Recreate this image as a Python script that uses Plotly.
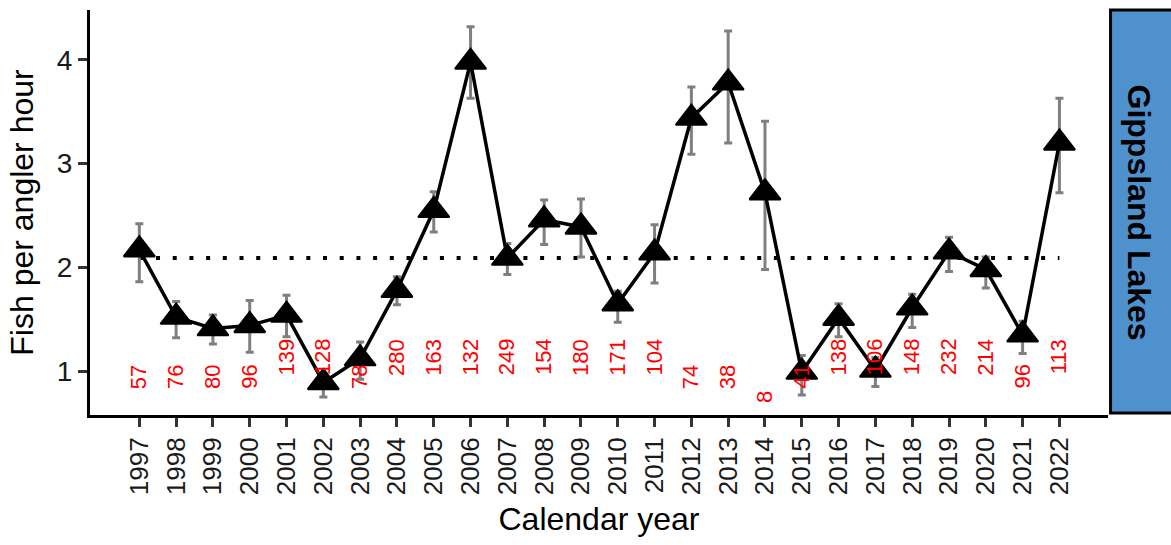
import plotly.graph_objects as go

# Recreational catch rate, Gippsland Lakes
years = [1997, 1998, 1999, 2000, 2001, 2002, 2003, 2004, 2005, 2006, 2007, 2008, 2009,
         2010, 2011, 2012, 2013, 2014, 2015, 2016, 2017, 2018, 2019, 2020, 2021, 2022]
cpue = [2.17, 1.52, 1.41, 1.44, 1.54, 0.89, 1.12, 1.78, 2.55, 3.98, 2.09, 2.46, 2.39,
        1.65, 2.14, 3.44, 3.78, 2.72, 0.99, 1.51, 1.01, 1.61, 2.15, 1.98, 1.35, 3.20]
ci_upper = [2.42, 1.67, 1.54, 1.68, 1.73, 0.98, 1.28, 1.91, 2.73, 4.32, 2.23, 2.65, 2.66,
            1.77, 2.41, 3.74, 4.28, 3.41, 1.15, 1.65, 1.13, 1.74, 2.29, 2.10, 1.48, 3.63]
ci_lower = [1.86, 1.32, 1.26, 1.18, 1.33, 0.75, 0.92, 1.64, 2.34, 3.63, 1.93, 2.22, 2.10,
            1.47, 1.85, 3.09, 3.20, 1.98, 0.77, 1.33, 0.85, 1.42, 1.96, 1.80, 1.17, 2.72]
n_anglers = [57, 76, 80, 96, 139, 128, 78, 280, 163, 132, 249, 154, 180,
             171, 104, 74, 38, 8, 41, 138, 106, 148, 232, 214, 96, 113]
long_term_mean = 2.09
region_name = "Gippsland Lakes"

FONT = "Liberation Sans, Arial, Helvetica, sans-serif"

fig = go.Figure()

# long-term average
fig.add_trace(go.Scatter(
    x=years, y=[long_term_mean] * len(years), mode="lines",
    line=dict(color="black", width=4, dash="4px,12.7px"),
    hoverinfo="skip", showlegend=False,
))

# confidence intervals
fig.add_trace(go.Scatter(
    x=years, y=cpue, mode="markers",
    marker=dict(size=1, color="rgba(0,0,0,0)"),
    error_y=dict(
        type="data", symmetric=False,
        array=[u - c for u, c in zip(ci_upper, cpue)],
        arrayminus=[c - l for c, l in zip(cpue, ci_lower)],
        color="#7f7f7f", thickness=3, width=4,
    ),
    hoverinfo="skip", showlegend=False,
))

# annual catch rate
fig.add_trace(go.Scatter(
    x=years, y=cpue, mode="lines+markers",
    line=dict(color="black", width=3.5),
    marker=dict(symbol="triangle-up", size=27, color="black",
                line=dict(color="black", width=2)),
    showlegend=False,
))

# sample sizes, printed vertically beneath the series
annotations = []
for yr, n in zip(years, n_anglers):
    digits = len(str(n))
    annotations.append(dict(
        x=yr, y=0.557 + 0.193 * digits, xref="x", yref="y",
        text=str(n), showarrow=False, textangle=-90,
        xanchor="center", yanchor="middle",
        font=dict(family=FONT, size=22, color="#ff0000"),
    ))

# facet strip on the right
annotations.append(dict(
    x=1.0314, y=0.5, xref="paper", yref="paper",
    text=region_name, showarrow=False, textangle=90,
    xanchor="center", yanchor="middle",
    font=dict(family=FONT, size=32, color="black", weight="bold"),
))

fig.add_shape(
    type="rect", xref="paper", yref="paper",
    x0=1.0025, x1=1.066, y0=0.005, y1=1.0,
    fillcolor="#4f91cd", line=dict(color="black", width=3), layer="below",
)

fig.update_layout(
    width=1171, height=545,
    margin=dict(l=90, r=63, t=10, b=130, autoexpand=False),
    paper_bgcolor="white", plot_bgcolor="white",
    font=dict(family=FONT, color="black"),
    annotations=annotations,
)

fig.update_xaxes(
    range=[1995.66, 2023.32], tickmode="array", tickvals=years,
    ticktext=[str(y) for y in years], tickangle=-90,
    tickfont=dict(family=FONT, size=26, color="#1a1a1a"),
    ticks="outside", ticklen=9, tickwidth=3, tickcolor="#333333",
    showline=True, linecolor="black", linewidth=3,
    showgrid=False, zeroline=False,
    title=dict(text="Calendar year", font=dict(family=FONT, size=32, color="black"),
               standoff=14),
)

fig.update_yaxes(
    range=[0.576, 4.482], tickvals=[1, 2, 3, 4],
    tickfont=dict(family=FONT, size=28, color="#1a1a1a"),
    ticks="outside", ticklen=9, tickwidth=3, tickcolor="#333333",
    showline=True, linecolor="black", linewidth=3,
    showgrid=False, zeroline=False,
    title=dict(text="Fish per angler hour", font=dict(family=FONT, size=32, color="black"),
               standoff=14),
)

fig.write_html("out.html")
